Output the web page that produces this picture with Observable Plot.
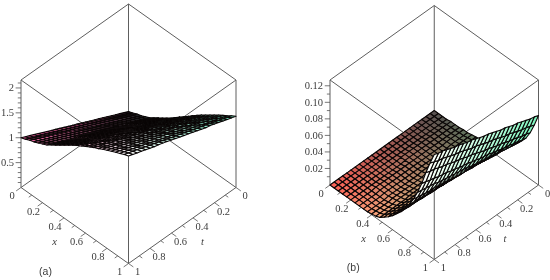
<!DOCTYPE html>
<html><head><meta charset="utf-8">
<script src="https://cdn.jsdelivr.net/npm/d3@7"></script>
<script src="https://cdn.jsdelivr.net/npm/@observablehq/plot@0.6"></script>
<style>
html,body{margin:0;padding:0;background:#fff}
#wrap{display:flex;width:550px;height:280px}
#wrap svg{display:block;filter:blur(.4px)}
#wrap svg text{font-family:"Liberation Serif"}
#wrap svg text.name, #wrap svg .name text{font-family:"Liberation Sans"}
</style></head><body><div id="wrap"></div>
<script>
const xGrid=[0,.04,.08,.12,.16,.2,.24,.28,.32,.36,.4,.44,.48,.52,.56,.6,.64,.68,.72,.76,.8,.84,.88,.92,.96,1];
const tGrid=xGrid;
// surface heights, in hundredths; one row per t, one column per x
const surfaceA=[
[0,3,7,10,14,18,24,30,36,42,48,55,62,69,76,83,90,97,103,109,115,121,127,132,138,143],
[4,7,11,14,18,22,28,34,40,46,52,59,66,73,80,87,94,100,106,112,118,124,130,135,141,146],
[8,11,15,18,22,26,32,38,44,50,56,63,70,77,83,90,97,104,110,116,122,127,133,138,144,149],
[12,15,19,22,26,30,36,42,48,54,60,67,74,80,87,94,101,107,113,119,125,131,136,141,147,152],
[16,19,23,26,30,34,40,46,52,58,64,71,77,84,91,98,104,111,117,122,128,134,139,144,150,155],
[20,23,27,30,34,38,44,50,56,62,68,74,81,88,95,101,108,114,120,126,131,137,143,147,153,158],
[24,27,31,34,38,42,48,54,60,66,72,78,85,92,98,105,111,118,123,129,135,140,146,150,156,161],
[28,31,35,38,42,46,51,57,63,69,75,82,89,96,102,108,115,121,127,133,138,143,149,154,159,163],
[32,35,39,42,46,50,55,61,67,73,79,86,93,99,106,112,118,125,130,136,141,147,152,157,162,166],
[36,39,43,46,50,54,59,65,71,77,83,90,97,103,109,116,122,128,134,139,145,150,155,160,165,169],
[40,43,47,50,54,58,63,69,75,81,87,94,100,107,113,120,126,131,137,142,148,153,158,163,168,172],
[44,47,51,54,58,62,67,73,79,85,91,98,104,111,117,123,129,135,140,146,151,156,161,166,171,175],
[48,51,55,58,62,66,71,77,83,89,95,102,108,114,121,127,133,139,144,149,154,159,164,169,174,178],
[52,55,59,62,66,70,75,81,87,93,99,105,112,118,124,130,136,142,147,153,158,163,168,172,177,181],
[56,59,63,66,70,74,79,85,91,97,103,109,116,122,128,134,140,146,151,156,161,166,171,175,180,184],
[60,63,67,70,74,78,83,89,95,101,107,113,120,126,132,138,143,149,154,159,164,169,174,178,183,187],
[64,67,71,74,78,82,87,93,99,105,111,117,123,130,136,141,147,153,157,163,167,172,177,181,186,190],
[68,71,75,78,82,86,91,97,103,109,115,121,127,134,139,145,151,156,161,166,171,175,180,184,189,193],
[72,75,79,82,86,90,95,101,107,113,119,125,131,137,143,149,154,160,164,169,174,179,183,187,192,196],
[76,79,83,86,90,94,98,104,110,116,122,129,135,141,147,152,158,163,168,173,177,182,186,191,195,198],
[80,83,87,90,94,98,102,108,114,120,126,132,139,145,150,156,161,167,171,176,181,185,189,194,198,201],
[84,87,91,94,98,102,106,112,118,124,130,136,142,149,154,160,165,170,174,179,184,188,193,197,201,204],
[88,91,95,98,102,106,110,116,122,128,134,140,146,153,158,163,168,174,178,183,187,191,196,200,204,207],
[92,95,99,102,106,110,114,120,126,132,138,144,150,156,162,167,172,177,181,186,190,195,199,203,207,210],
[96,99,103,106,110,114,118,124,130,136,142,148,154,160,165,170,175,180,185,190,194,198,202,206,210,213],
[100,103,107,110,114,118,122,128,134,140,146,152,158,164,169,174,179,184,188,193,197,201,205,209,213,216]];
// surface heights, in thousandths; one row per t, one column per x
const surfaceB=[
[0,0,0,0,1,1,1,2,2,3,4,5,6,8,10,13,16,20,24,29,33,39,46,56,69,84],
[0,0,0,0,1,1,1,2,2,3,4,5,6,8,10,13,16,20,25,30,34,40,47,58,71,86],
[0,0,0,0,1,1,1,2,2,3,4,5,6,8,10,13,17,21,25,30,35,41,49,59,73,87],
[0,0,0,0,1,1,1,2,2,3,4,5,6,8,10,13,17,21,26,31,36,42,50,61,74,89],
[0,0,0,0,1,1,1,2,2,3,4,5,6,8,10,14,17,21,26,32,37,43,52,63,76,91],
[0,0,0,0,1,1,1,1,1,2,3,4,6,8,10,14,17,22,27,32,37,45,53,64,78,93],
[0,0,0,0,1,1,1,1,1,2,3,4,6,8,10,14,18,22,27,33,38,46,54,66,80,94],
[0,0,0,0,1,1,1,1,1,2,3,4,5,8,11,14,18,23,28,33,39,47,56,68,81,96],
[0,0,0,0,1,1,1,1,1,2,3,4,5,8,11,14,18,23,28,34,40,48,57,69,83,98],
[0,0,0,0,1,1,1,1,1,2,3,4,5,8,11,14,19,23,29,35,41,49,59,71,85,99],
[0,0,0,0,1,1,1,1,1,2,3,4,5,8,11,15,19,24,29,35,42,50,60,73,87,101],
[0,0,0,0,1,1,1,1,1,2,3,4,5,8,11,15,19,24,30,36,43,51,61,74,88,103],
[0,0,0,0,1,1,1,1,1,2,3,4,5,8,11,15,19,24,30,37,44,52,63,76,90,105],
[0,0,0,0,0,0,1,1,1,1,2,3,5,8,11,15,20,25,31,37,44,54,64,78,92,106],
[0,0,0,0,0,0,1,1,1,1,2,3,5,8,11,15,20,25,31,38,45,55,66,80,94,108],
[0,0,0,0,0,0,1,1,1,1,2,3,5,8,11,15,20,25,32,39,46,56,67,81,95,110],
[0,0,0,0,0,0,1,1,1,1,2,3,5,8,11,16,20,26,32,39,47,57,68,83,97,112],
[0,0,0,0,0,0,1,1,1,1,2,3,5,8,11,16,21,26,33,40,48,58,70,85,99,113],
[0,0,0,0,0,0,1,1,1,1,2,3,5,8,11,16,21,26,33,41,49,59,71,86,101,115],
[0,0,0,0,0,0,1,1,1,1,2,3,4,8,12,16,21,27,34,41,50,60,73,88,102,117],
[0,0,0,0,0,0,1,1,1,1,2,3,4,8,12,16,22,27,34,42,51,61,74,90,104,118],
[0,0,0,0,0,0,0,0,0,0,1,2,4,8,12,16,22,28,35,42,51,63,75,91,106,120],
[0,0,0,0,0,0,0,0,0,0,1,2,4,8,12,17,22,28,35,43,52,64,77,93,108,122],
[0,0,0,0,0,0,0,0,0,0,1,2,4,8,12,17,22,28,36,44,53,65,78,95,109,124],
[0,0,0,0,0,0,0,0,0,0,1,2,4,8,12,17,23,29,36,44,54,66,80,96,111,125],
[0,0,0,0,0,0,0,0,0,0,1,2,4,8,12,17,23,29,37,45,55,67,81,98,113,127]];
const axisLabels=[0,.2,.4,.6,.8,1];
const axisMinor=[.1,.3,.5,.7,.9];
const zLabelsA=[.5,1,1.5,2];
const zMinorA=[.1,.2,.3,.4,.6,.7,.8,.9,1.1,1.2,1.3,1.4,1.6,1.7,1.8,1.9,2.1];
const zLabelsB=[.02,.04,.06,.08,.10,.12];
const zMinorB=[.01,.03,.05,.07,.09,.11];

const mix=(a,b,k)=>a.map((v,n)=>v+(b[n]-v)*k);
const corners=(c,x,t)=>{const p=mix(mix(c.c00,c.c01,t),mix(c.c10,c.c11,t),x);return `rgb(${p.map(Math.round).join(",")})`;};

function panel(o){
  const view=(x,t,z)=>({px:x-t,py:o.k*(x+t)+1-z/o.zTop});
  const cells=[];
  const n=xGrid.length-1;
  const height=(i,j)=>o.rows[j][i]*o.unit;
  for(let j=0;j<n;j++)for(let i=0;i<n;i++){
    const a=view(xGrid[i],tGrid[j],height(i,j)),b=view(xGrid[i+1],tGrid[j],height(i+1,j)),
          c=view(xGrid[i+1],tGrid[j+1],height(i+1,j+1)),d=view(xGrid[i],tGrid[j+1],height(i,j+1));
    const s=(c.px-a.px)*(d.py-b.py)-(c.py-a.py)*(d.px-b.px);
    const fill=corners(s<0?o.under:o.over,(xGrid[i]+xGrid[i+1])/2,(tGrid[j]+tGrid[j+1])/2);
    cells.push({id:`${i}-${j}`,depth:i+j,pts:[a,b,c,d,a].map(p=>({...p,fill}))});
  }
  cells.sort((u,v)=>u.depth-v.depth);
  const polys=cells.flatMap(c=>c.pts.map(p=>({...p,id:c.id})));
  const T=o.zTop;
  const E=[[[0,0,0],[1,0,0]],[[1,0,0],[1,1,0]],[[1,1,0],[0,1,0]],[[0,1,0],[0,0,0]],
           [[0,0,T],[1,0,T]],[[1,0,T],[1,1,T]],[[1,1,T],[0,1,T]],[[0,1,T],[0,0,T]],
           [[0,0,0],[0,0,T]],[[1,0,0],[1,0,T]],[[1,1,0],[1,1,T]],[[0,1,0],[0,1,T]]]
    .map(([p,q])=>({a:view(...p),b:view(...q)}));
  const link=(rows,w)=>Plot.link(rows,{x1:d=>d.a.px,y1:d=>d.a.py,x2:d=>d.b.px,y2:d=>d.b.py,stroke:w.c,strokeWidth:w.w});
  const mk=(vals,f,g)=>vals.map(v=>({a:view(...f(v)),b:view(...g(v))}));
  const xT=d=>[v=>[v,1,0],v=>[v,1+d,0]], tT=d=>[v=>[1,v,0],v=>[1+d,v,0]];
  const sty={fill:"#3c3c3c",fontSize:10.5};
  const lab=(vals,f,dx,dy)=>Plot.text(vals,{x:v=>view(...f(v)).px,y:v=>view(...f(v)).py,text:v=>String(v),dx,dy,...sty});
  return Plot.plot({
    width:275,height:280,margin:0,
    x:{domain:[-1,1],range:o.xr,axis:null},
    y:{domain:[0,2*o.k+1],range:o.yr,axis:null},
    style:{background:"transparent"},
    marks:[
      link(E,{c:"#5e5e5e",w:1}),
      link(mk(axisLabels,...xT(.045)),{c:"#555",w:.8}),
      link(mk(axisMinor,...xT(.028)),{c:"#555",w:.8}),
      link(mk(axisLabels,...tT(.045)),{c:"#555",w:.8}),
      link(mk(axisMinor,...tT(.028)),{c:"#555",w:.8}),
      link(o.zLab.map(v=>({a:view(0,1,v),b:{px:view(0,1,v).px-.05,py:view(0,1,v).py}})),{c:"#555",w:.8}),
      link(o.zMin.map(v=>({a:view(0,1,v),b:{px:view(0,1,v).px-.03,py:view(0,1,v).py}})),{c:"#555",w:.8}),
      Plot.line(polys,{x:"px",y:"py",z:"id",fill:"fill",stroke:"#0a0606",strokeWidth:o.sw,strokeLinejoin:"round"}),
      lab(axisLabels,v=>[v,1,0],-9,8.5),
      lab(axisLabels,v=>[1,v,0],9,8.5),
      Plot.text(o.zLab,{x:v=>view(0,1,v).px,y:v=>view(0,1,v).py,text:o.zFmt,dx:-7,textAnchor:"end",...sty}),
      Plot.text(["x"],{x:view(.6,1,0).px,y:view(.6,1,0).py,text:d=>d,dx:o.lx,dy:8.5,fontStyle:"italic",...sty}),
      Plot.text(["t"],{x:view(1,.6,0).px,y:view(1,.6,0).py,text:d=>d,dx:-o.lx,dy:8.5,fontStyle:"italic",...sty}),
      Plot.text([o.name],{x:view(1,1,0).px,y:view(1,1,0).py,text:d=>d,dx:o.nx,dy:8,className:"name",fontSize:10.5,fill:"#3c3c3c"})
    ]
  });
}
const overA={c00:[20,10,18],c01:[225,80,145],c10:[110,235,190],c11:[255,255,255]};
const overB={c00:[85,80,80],c01:[255,95,85],c10:[115,180,115],c11:[240,250,170]};
const underB={c00:[125,245,190],c01:[255,255,250],c10:[125,245,190],c11:[255,255,250]};
const wrap=document.getElementById("wrap");
wrap.append(panel({rows:surfaceA,unit:.01,zTop:2.16,k:.707,xr:[20.5,235.5],yr:[3.5,263],over:overA,under:overA,zLab:zLabelsA,zMin:zMinorA,zFmt:v=>String(v),sw:1.05,lx:-31,name:"(a)",nx:-83}));
wrap.append(panel({rows:surfaceB,unit:.001,zTop:.127,k:.7095,xr:[54.5,263],yr:[5,259],over:overB,under:underB,zLab:zLabelsB,zMin:zMinorB,zFmt:v=>v.toFixed(2),sw:1.1,lx:-29,name:"(b)",nx:-81}));
</script></body></html>
